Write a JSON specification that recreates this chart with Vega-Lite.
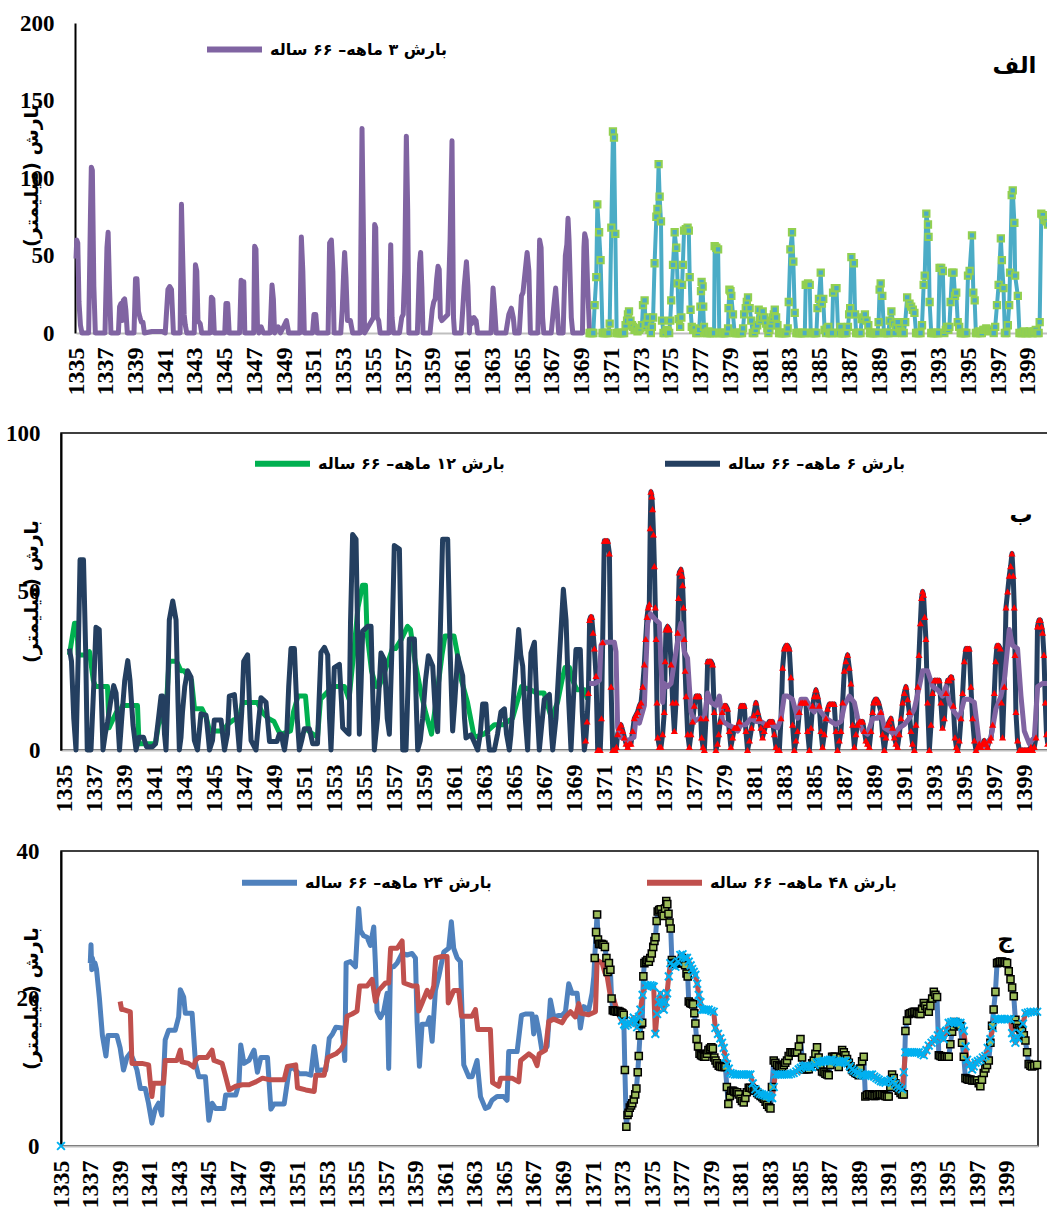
{
"$schema": "https://vega.github.io/schema/vega-lite/v6.json",
"background": "white",
"padding": {"left": 0, "top": 12, "right": 0, "bottom": 0},
"spacing": 26,
"resolve": {"scale": {"color": "independent"}, "legend": {"color": "independent"}},
"config": {"axis": {"labelFont": "Liberation Serif", "labelFontWeight": "bold", "labelFontSize": 23, "labelColor": "black", "ticks": false, "grid": false, "labelOverlap": false}, "axisX": {"labelOverlap": false, "labelFontSize": 24, "tickCount": 40}},
"datasets": {
"p1a": [{"t":1335.0,"v":48},{"t":1335.05,"v":60},{"t":1335.12,"v":58},{"t":1335.2,"v":20},{"t":1335.3,"v":5},{"t":1335.4,"v":0},{"t":1335.85,"v":0},{"t":1335.97,"v":75},{"t":1336.03,"v":107},{"t":1336.1,"v":105},{"t":1336.2,"v":30},{"t":1336.3,"v":0},{"t":1336.95,"v":0},{"t":1337.08,"v":55},{"t":1337.16,"v":65},{"t":1337.25,"v":30},{"t":1337.35,"v":0},{"t":1337.85,"v":0},{"t":1337.93,"v":17},{"t":1338.02,"v":19},{"t":1338.1,"v":8},{"t":1338.18,"v":21},{"t":1338.27,"v":22},{"t":1338.35,"v":15},{"t":1338.45,"v":0},{"t":1338.9,"v":0},{"t":1339.0,"v":35},{"t":1339.1,"v":35},{"t":1339.2,"v":14},{"t":1339.3,"v":10},{"t":1339.4,"v":7},{"t":1339.5,"v":7},{"t":1339.6,"v":0},{"t":1340.1,"v":1},{"t":1340.8,"v":1},{"t":1341.0,"v":0},{"t":1341.18,"v":28},{"t":1341.3,"v":30},{"t":1341.42,"v":28},{"t":1341.55,"v":0},{"t":1342.0,"v":0},{"t":1342.09,"v":83},{"t":1342.17,"v":50},{"t":1342.27,"v":12},{"t":1342.35,"v":5},{"t":1342.45,"v":0},{"t":1342.95,"v":0},{"t":1343.03,"v":44},{"t":1343.12,"v":40},{"t":1343.2,"v":8},{"t":1343.35,"v":6},{"t":1343.45,"v":0},{"t":1344.02,"v":0},{"t":1344.1,"v":23},{"t":1344.2,"v":22},{"t":1344.3,"v":0},{"t":1345.0,"v":0},{"t":1345.08,"v":19},{"t":1345.2,"v":19},{"t":1345.3,"v":0},{"t":1346.0,"v":0},{"t":1346.1,"v":34},{"t":1346.2,"v":33},{"t":1346.28,"v":33},{"t":1346.35,"v":0},{"t":1346.95,"v":0},{"t":1347.01,"v":56},{"t":1347.1,"v":54},{"t":1347.2,"v":5},{"t":1347.3,"v":0},{"t":1347.45,"v":4},{"t":1347.6,"v":0},{"t":1348.05,"v":0},{"t":1348.18,"v":31},{"t":1348.27,"v":22},{"t":1348.35,"v":0},{"t":1348.6,"v":4},{"t":1348.75,"v":0},{"t":1349.0,"v":5},{"t":1349.15,"v":8},{"t":1349.3,"v":0},{"t":1350.05,"v":0},{"t":1350.15,"v":62},{"t":1350.25,"v":40},{"t":1350.35,"v":0},{"t":1350.9,"v":0},{"t":1351.0,"v":12},{"t":1351.12,"v":12},{"t":1351.22,"v":0},{"t":1351.95,"v":0},{"t":1352.05,"v":58},{"t":1352.17,"v":60},{"t":1352.27,"v":40},{"t":1352.35,"v":0},{"t":1352.8,"v":0},{"t":1352.9,"v":15},{"t":1353.0,"v":40},{"t":1353.06,"v":52},{"t":1353.15,"v":36},{"t":1353.25,"v":8},{"t":1353.45,"v":8},{"t":1353.6,"v":0},{"t":1354.1,"v":0},{"t":1354.23,"v":132},{"t":1354.33,"v":60},{"t":1354.4,"v":0},{"t":1355.0,"v":10},{"t":1355.08,"v":70},{"t":1355.15,"v":68},{"t":1355.25,"v":10},{"t":1355.35,"v":8},{"t":1355.45,"v":0},{"t":1356.05,"v":0},{"t":1356.16,"v":57},{"t":1356.25,"v":10},{"t":1356.35,"v":0},{"t":1356.75,"v":0},{"t":1356.9,"v":10},{"t":1357.0,"v":12},{"t":1357.1,"v":40},{"t":1357.21,"v":127},{"t":1357.3,"v":80},{"t":1357.38,"v":0},{"t":1357.95,"v":0},{"t":1358.1,"v":45},{"t":1358.17,"v":52},{"t":1358.25,"v":30},{"t":1358.33,"v":0},{"t":1358.8,"v":0},{"t":1358.95,"v":15},{"t":1359.05,"v":20},{"t":1359.15,"v":22},{"t":1359.25,"v":35},{"t":1359.34,"v":43},{"t":1359.42,"v":41},{"t":1359.5,"v":10},{"t":1359.6,"v":8},{"t":1360.0,"v":12},{"t":1360.15,"v":60},{"t":1360.28,"v":124},{"t":1360.38,"v":10},{"t":1360.45,"v":0},{"t":1360.9,"v":0},{"t":1361.1,"v":30},{"t":1361.25,"v":46},{"t":1361.35,"v":30},{"t":1361.45,"v":0},{"t":1361.5,"v":10},{"t":1361.6,"v":6},{"t":1361.75,"v":10},{"t":1361.9,"v":8},{"t":1362.0,"v":0},{"t":1362.9,"v":0},{"t":1363.04,"v":29},{"t":1363.15,"v":15},{"t":1363.25,"v":0},{"t":1363.9,"v":0},{"t":1364.1,"v":12},{"t":1364.27,"v":16},{"t":1364.4,"v":10},{"t":1364.5,"v":0},{"t":1364.8,"v":0},{"t":1364.95,"v":24},{"t":1365.05,"v":26},{"t":1365.2,"v":40},{"t":1365.33,"v":52},{"t":1365.45,"v":40},{"t":1365.55,"v":0},{"t":1366.05,"v":0},{"t":1366.17,"v":60},{"t":1366.27,"v":55},{"t":1366.37,"v":10},{"t":1366.45,"v":0},{"t":1366.95,"v":0},{"t":1367.1,"v":15},{"t":1367.25,"v":29},{"t":1367.35,"v":15},{"t":1367.45,"v":0},{"t":1367.75,"v":0},{"t":1367.9,"v":50},{"t":1368.0,"v":57},{"t":1368.08,"v":74},{"t":1368.15,"v":60},{"t":1368.2,"v":43},{"t":1368.3,"v":10},{"t":1368.4,"v":0},{"t":1369.05,"v":0},{"t":1369.15,"v":55},{"t":1369.2,"v":64},{"t":1369.3,"v":60},{"t":1369.4,"v":30},{"t":1369.53,"v":0}],
"p1b": [{"t":1369.53,"v":0},{"t":1369.62,"v":0},{"t":1369.7,"v":0},{"t":1369.78,"v":0},{"t":1369.87,"v":18},{"t":1369.98,"v":36},{"t":1370.05,"v":83},{"t":1370.17,"v":65},{"t":1370.27,"v":47},{"t":1370.4,"v":0},{"t":1370.5,"v":0},{"t":1370.6,"v":0},{"t":1370.7,"v":0},{"t":1370.8,"v":0},{"t":1370.88,"v":6},{"t":1370.99,"v":68},{"t":1371.1,"v":130},{"t":1371.17,"v":126},{"t":1371.26,"v":64},{"t":1371.35,"v":0},{"t":1371.45,"v":0},{"t":1371.55,"v":0},{"t":1371.65,"v":0},{"t":1371.75,"v":0},{"t":1371.85,"v":0},{"t":1371.95,"v":5},{"t":1372.05,"v":8},{"t":1372.11,"v":12},{"t":1372.18,"v":14},{"t":1372.28,"v":8},{"t":1372.38,"v":5},{"t":1372.45,"v":4},{"t":1372.55,"v":2},{"t":1372.65,"v":3},{"t":1372.75,"v":1},{"t":1372.85,"v":2},{"t":1372.95,"v":3},{"t":1373.05,"v":5},{"t":1373.12,"v":18},{"t":1373.23,"v":21},{"t":1373.3,"v":4},{"t":1373.37,"v":6},{"t":1373.45,"v":10},{"t":1373.55,"v":2},{"t":1373.65,"v":0},{"t":1373.72,"v":4},{"t":1373.8,"v":10},{"t":1373.9,"v":45},{"t":1374.02,"v":75},{"t":1374.09,"v":80},{"t":1374.17,"v":109},{"t":1374.24,"v":88},{"t":1374.33,"v":72},{"t":1374.4,"v":8},{"t":1374.5,"v":0},{"t":1374.6,"v":0},{"t":1374.7,"v":2},{"t":1374.8,"v":1},{"t":1374.88,"v":0},{"t":1374.95,"v":8},{"t":1375.02,"v":21},{"t":1375.14,"v":44},{"t":1375.25,"v":65},{"t":1375.36,"v":55},{"t":1375.45,"v":32},{"t":1375.52,"v":9},{"t":1375.62,"v":4},{"t":1375.7,"v":10},{"t":1375.75,"v":31},{"t":1375.8,"v":44},{"t":1375.88,"v":66},{"t":1376.0,"v":67},{"t":1376.12,"v":68},{"t":1376.2,"v":66},{"t":1376.26,"v":36},{"t":1376.32,"v":15},{"t":1376.4,"v":4},{"t":1376.5,"v":2},{"t":1376.6,"v":3},{"t":1376.7,"v":0},{"t":1376.8,"v":0},{"t":1376.9,"v":2},{"t":1376.98,"v":17},{"t":1377.02,"v":27},{"t":1377.06,"v":33},{"t":1377.13,"v":30},{"t":1377.17,"v":17},{"t":1377.22,"v":4},{"t":1377.32,"v":0},{"t":1377.42,"v":0},{"t":1377.52,"v":1},{"t":1377.62,"v":0},{"t":1377.72,"v":0},{"t":1377.82,"v":0},{"t":1377.9,"v":0},{"t":1377.94,"v":56},{"t":1378.05,"v":55},{"t":1378.17,"v":54},{"t":1378.25,"v":0},{"t":1378.35,"v":0},{"t":1378.45,"v":0},{"t":1378.55,"v":0},{"t":1378.65,"v":0},{"t":1378.75,"v":0},{"t":1378.84,"v":3},{"t":1378.87,"v":16},{"t":1378.93,"v":28},{"t":1379.0,"v":27},{"t":1379.06,"v":24},{"t":1379.17,"v":12},{"t":1379.28,"v":0},{"t":1379.38,"v":0},{"t":1379.48,"v":0},{"t":1379.58,"v":0},{"t":1379.68,"v":0},{"t":1379.78,"v":0},{"t":1379.85,"v":3},{"t":1379.92,"v":12},{"t":1380.03,"v":16},{"t":1380.1,"v":20},{"t":1380.18,"v":23},{"t":1380.29,"v":16},{"t":1380.4,"v":8},{"t":1380.5,"v":0},{"t":1380.6,"v":0},{"t":1380.7,"v":2},{"t":1380.8,"v":5},{"t":1380.9,"v":15},{"t":1381.0,"v":8},{"t":1381.08,"v":10},{"t":1381.17,"v":14},{"t":1381.28,"v":10},{"t":1381.4,"v":6},{"t":1381.48,"v":3},{"t":1381.55,"v":0},{"t":1381.62,"v":2},{"t":1381.7,"v":5},{"t":1381.78,"v":8},{"t":1381.85,"v":10},{"t":1381.92,"v":12},{"t":1381.98,"v":15},{"t":1382.07,"v":10},{"t":1382.16,"v":5},{"t":1382.27,"v":0},{"t":1382.37,"v":0},{"t":1382.47,"v":0},{"t":1382.57,"v":0},{"t":1382.67,"v":0},{"t":1382.77,"v":0},{"t":1382.85,"v":3},{"t":1382.92,"v":20},{"t":1383.03,"v":54},{"t":1383.14,"v":65},{"t":1383.23,"v":46},{"t":1383.32,"v":13},{"t":1383.43,"v":0},{"t":1383.53,"v":0},{"t":1383.63,"v":0},{"t":1383.73,"v":0},{"t":1383.83,"v":0},{"t":1383.93,"v":0},{"t":1384.0,"v":0},{"t":1384.06,"v":31},{"t":1384.14,"v":31},{"t":1384.22,"v":32},{"t":1384.33,"v":31},{"t":1384.4,"v":0},{"t":1384.5,"v":0},{"t":1384.6,"v":0},{"t":1384.7,"v":0},{"t":1384.78,"v":0},{"t":1384.85,"v":16},{"t":1384.95,"v":22},{"t":1385.07,"v":39},{"t":1385.15,"v":19},{"t":1385.24,"v":22},{"t":1385.33,"v":2},{"t":1385.42,"v":0},{"t":1385.5,"v":3},{"t":1385.58,"v":4},{"t":1385.66,"v":0},{"t":1385.75,"v":0},{"t":1385.83,"v":0},{"t":1385.9,"v":26},{"t":1386.02,"v":29},{"t":1386.13,"v":29},{"t":1386.24,"v":0},{"t":1386.32,"v":0},{"t":1386.4,"v":4},{"t":1386.5,"v":0},{"t":1386.6,"v":0},{"t":1386.7,"v":0},{"t":1386.8,"v":0},{"t":1386.9,"v":4},{"t":1386.98,"v":12},{"t":1387.05,"v":16},{"t":1387.13,"v":49},{"t":1387.3,"v":45},{"t":1387.38,"v":12},{"t":1387.45,"v":0},{"t":1387.55,"v":0},{"t":1387.65,"v":0},{"t":1387.75,"v":0},{"t":1387.82,"v":9},{"t":1387.93,"v":10},{"t":1388.04,"v":12},{"t":1388.15,"v":8},{"t":1388.27,"v":5},{"t":1388.38,"v":0},{"t":1388.48,"v":0},{"t":1388.58,"v":0},{"t":1388.68,"v":0},{"t":1388.78,"v":0},{"t":1388.88,"v":0},{"t":1388.96,"v":7},{"t":1389.03,"v":28},{"t":1389.1,"v":32},{"t":1389.21,"v":24},{"t":1389.32,"v":0},{"t":1389.42,"v":0},{"t":1389.52,"v":0},{"t":1389.62,"v":0},{"t":1389.7,"v":8},{"t":1389.82,"v":14},{"t":1389.95,"v":6},{"t":1390.05,"v":0},{"t":1390.12,"v":4},{"t":1390.25,"v":7},{"t":1390.35,"v":3},{"t":1390.45,"v":1},{"t":1390.55,"v":0},{"t":1390.65,"v":0},{"t":1390.75,"v":7},{"t":1390.88,"v":23},{"t":1391.04,"v":19},{"t":1391.15,"v":17},{"t":1391.26,"v":15},{"t":1391.37,"v":13},{"t":1391.48,"v":0},{"t":1391.58,"v":0},{"t":1391.68,"v":0},{"t":1391.78,"v":0},{"t":1391.88,"v":5},{"t":1391.99,"v":31},{"t":1392.06,"v":37},{"t":1392.17,"v":77},{"t":1392.28,"v":70},{"t":1392.32,"v":62},{"t":1392.39,"v":20},{"t":1392.5,"v":0},{"t":1392.6,"v":0},{"t":1392.7,"v":0},{"t":1392.8,"v":0},{"t":1392.9,"v":0},{"t":1392.97,"v":0},{"t":1393.06,"v":42},{"t":1393.17,"v":42},{"t":1393.28,"v":40},{"t":1393.38,"v":0},{"t":1393.48,"v":2},{"t":1393.56,"v":4},{"t":1393.65,"v":2},{"t":1393.72,"v":4},{"t":1393.8,"v":20},{"t":1393.9,"v":39},{"t":1394.0,"v":39},{"t":1394.1,"v":24},{"t":1394.18,"v":26},{"t":1394.28,"v":7},{"t":1394.38,"v":4},{"t":1394.48,"v":0},{"t":1394.58,"v":0},{"t":1394.68,"v":0},{"t":1394.78,"v":0},{"t":1394.86,"v":0},{"t":1394.97,"v":37},{"t":1395.08,"v":40},{"t":1395.24,"v":63},{"t":1395.33,"v":26},{"t":1395.42,"v":21},{"t":1395.5,"v":0},{"t":1395.6,"v":0},{"t":1395.7,"v":1},{"t":1395.8,"v":0},{"t":1395.9,"v":0},{"t":1396.0,"v":2},{"t":1396.1,"v":2},{"t":1396.2,"v":3},{"t":1396.3,"v":2},{"t":1396.4,"v":1},{"t":1396.5,"v":2},{"t":1396.6,"v":2},{"t":1396.7,"v":0},{"t":1396.8,"v":4},{"t":1396.92,"v":18},{"t":1397.03,"v":31},{"t":1397.18,"v":61},{"t":1397.25,"v":47},{"t":1397.36,"v":29},{"t":1397.45,"v":0},{"t":1397.55,"v":0},{"t":1397.65,"v":5},{"t":1397.74,"v":18},{"t":1397.8,"v":39},{"t":1397.91,"v":89},{"t":1397.98,"v":92},{"t":1398.09,"v":71},{"t":1398.14,"v":37},{"t":1398.32,"v":24},{"t":1398.43,"v":0},{"t":1398.53,"v":0},{"t":1398.63,"v":0},{"t":1398.73,"v":1},{"t":1398.83,"v":0},{"t":1398.93,"v":0},{"t":1399.03,"v":0},{"t":1399.13,"v":1},{"t":1399.23,"v":0},{"t":1399.33,"v":0},{"t":1399.43,"v":1},{"t":1399.53,"v":2},{"t":1399.63,"v":0},{"t":1399.72,"v":0},{"t":1399.79,"v":7},{"t":1399.9,"v":77},{"t":1400.0,"v":76},{"t":1400.12,"v":73},{"t":1400.25,"v":72},{"t":1400.35,"v":70}],
"p2g": [{"t":1335.36,"v":30},{"t":1335.7,"v":40},{"t":1335.85,"v":40},{"t":1335.95,"v":30},{"t":1336.5,"v":30},{"t":1336.7,"v":31},{"t":1336.95,"v":22},{"t":1337.1,"v":20},{"t":1337.9,"v":20},{"t":1338.0,"v":7},{"t":1338.3,"v":10},{"t":1338.5,"v":12},{"t":1338.7,"v":12},{"t":1338.9,"v":14},{"t":1339.5,"v":14},{"t":1339.9,"v":14},{"t":1340.0,"v":2},{"t":1341.1,"v":2},{"t":1341.3,"v":8},{"t":1341.5,"v":10},{"t":1341.8,"v":12},{"t":1342.0,"v":28},{"t":1342.5,"v":28},{"t":1342.8,"v":25},{"t":1343.0,"v":25},{"t":1343.5,"v":22},{"t":1343.7,"v":13},{"t":1344.2,"v":13},{"t":1344.5,"v":10},{"t":1344.7,"v":6},{"t":1345.6,"v":6},{"t":1345.9,"v":8},{"t":1346.3,"v":9.5},{"t":1346.7,"v":10},{"t":1346.9,"v":15},{"t":1347.9,"v":15},{"t":1348.2,"v":12},{"t":1348.6,"v":10},{"t":1349.0,"v":9},{"t":1349.3,"v":6},{"t":1349.5,"v":5},{"t":1350.1,"v":6},{"t":1350.3,"v":12},{"t":1350.6,"v":17},{"t":1351.1,"v":17},{"t":1351.3,"v":6},{"t":1351.9,"v":4},{"t":1352.1,"v":16},{"t":1352.5,"v":18},{"t":1352.9,"v":20},{"t":1353.7,"v":20},{"t":1354.0,"v":16},{"t":1354.3,"v":30},{"t":1354.6,"v":45},{"t":1354.9,"v":52},{"t":1355.1,"v":52},{"t":1355.2,"v":37},{"t":1355.5,"v":25},{"t":1355.8,"v":20},{"t":1356.0,"v":20},{"t":1356.4,"v":25},{"t":1356.9,"v":32},{"t":1357.1,"v":32},{"t":1357.5,"v":35},{"t":1357.9,"v":39},{"t":1358.1,"v":38},{"t":1358.4,"v":28},{"t":1358.8,"v":18},{"t":1359.1,"v":12},{"t":1359.5,"v":5},{"t":1359.8,"v":15},{"t":1360.2,"v":30},{"t":1360.4,"v":36},{"t":1361.0,"v":36},{"t":1361.2,"v":31},{"t":1361.5,"v":22},{"t":1361.9,"v":15},{"t":1362.35,"v":4},{"t":1363.0,"v":5},{"t":1363.7,"v":8},{"t":1364.3,"v":8},{"t":1364.9,"v":10},{"t":1365.2,"v":15},{"t":1365.5,"v":20},{"t":1366.1,"v":19},{"t":1366.5,"v":18},{"t":1367.0,"v":18},{"t":1367.5,"v":10},{"t":1367.9,"v":15},{"t":1368.2,"v":22},{"t":1368.4,"v":26},{"t":1368.7,"v":26},{"t":1368.9,"v":22},{"t":1369.2,"v":19},{"t":1369.7,"v":19},{"t":1369.9,"v":16}],
"p2n": [{"t":1335.36,"v":32},{"t":1335.5,"v":28},{"t":1335.65,"v":10},{"t":1335.8,"v":0},{"t":1335.95,"v":30},{"t":1336.07,"v":60},{"t":1336.3,"v":60},{"t":1336.45,"v":30},{"t":1336.55,"v":0},{"t":1336.8,"v":0},{"t":1336.98,"v":20},{"t":1337.13,"v":38.7},{"t":1337.35,"v":38},{"t":1337.5,"v":15},{"t":1337.6,"v":0},{"t":1337.75,"v":5},{"t":1337.91,"v":9},{"t":1338.1,"v":15},{"t":1338.31,"v":20.3},{"t":1338.47,"v":18},{"t":1338.6,"v":8},{"t":1338.7,"v":0},{"t":1338.85,"v":10},{"t":1339.05,"v":22},{"t":1339.25,"v":28.2},{"t":1339.4,"v":22},{"t":1339.6,"v":8},{"t":1339.8,"v":0},{"t":1340.0,"v":4},{"t":1340.3,"v":4},{"t":1340.5,"v":1},{"t":1340.9,"v":1},{"t":1341.1,"v":2},{"t":1341.3,"v":10},{"t":1341.47,"v":17},{"t":1341.58,"v":17},{"t":1341.7,"v":5},{"t":1341.8,"v":0},{"t":1341.9,"v":15},{"t":1342.02,"v":41},{"t":1342.25,"v":47},{"t":1342.47,"v":41},{"t":1342.6,"v":15},{"t":1342.69,"v":0},{"t":1342.8,"v":4},{"t":1342.9,"v":12},{"t":1343.05,"v":20},{"t":1343.24,"v":25},{"t":1343.47,"v":23},{"t":1343.6,"v":10},{"t":1343.69,"v":3},{"t":1343.9,"v":0},{"t":1344.0,"v":5},{"t":1344.13,"v":11.4},{"t":1344.47,"v":11},{"t":1344.6,"v":5},{"t":1344.7,"v":0},{"t":1344.9,"v":3},{"t":1345.02,"v":9.5},{"t":1345.47,"v":9.5},{"t":1345.6,"v":4},{"t":1345.7,"v":0},{"t":1345.9,"v":5},{"t":1346.02,"v":17},{"t":1346.36,"v":17.5},{"t":1346.55,"v":8},{"t":1346.69,"v":0},{"t":1346.85,"v":12},{"t":1346.98,"v":28},{"t":1347.24,"v":30},{"t":1347.4,"v":10},{"t":1347.47,"v":3},{"t":1347.8,"v":0},{"t":1347.95,"v":8},{"t":1348.13,"v":16.5},{"t":1348.47,"v":15},{"t":1348.6,"v":8},{"t":1348.7,"v":2.7},{"t":1349.2,"v":2.7},{"t":1349.35,"v":5},{"t":1349.5,"v":5},{"t":1349.6,"v":2},{"t":1349.7,"v":0},{"t":1349.85,"v":5},{"t":1349.98,"v":20},{"t":1350.13,"v":32},{"t":1350.36,"v":32},{"t":1350.55,"v":10},{"t":1350.69,"v":0},{"t":1350.85,"v":3},{"t":1351.02,"v":6.7},{"t":1351.36,"v":6.7},{"t":1351.58,"v":2},{"t":1351.9,"v":2},{"t":1352.0,"v":15},{"t":1352.13,"v":30.8},{"t":1352.36,"v":32.4},{"t":1352.58,"v":30},{"t":1352.7,"v":10},{"t":1352.8,"v":0},{"t":1352.9,"v":12},{"t":1353.02,"v":26},{"t":1353.36,"v":27},{"t":1353.5,"v":15},{"t":1353.58,"v":7},{"t":1353.9,"v":5.4},{"t":1354.0,"v":5},{"t":1354.1,"v":40},{"t":1354.24,"v":68},{"t":1354.47,"v":66.5},{"t":1354.6,"v":30},{"t":1354.69,"v":5},{"t":1354.8,"v":20},{"t":1354.91,"v":37.5},{"t":1355.24,"v":39},{"t":1355.47,"v":39},{"t":1355.6,"v":15},{"t":1355.69,"v":0},{"t":1355.9,"v":10},{"t":1356.13,"v":30.6},{"t":1356.36,"v":28.5},{"t":1356.55,"v":10},{"t":1356.69,"v":5},{"t":1356.85,"v":30},{"t":1357.02,"v":64.5},{"t":1357.36,"v":63.4},{"t":1357.5,"v":25},{"t":1357.58,"v":0},{"t":1357.8,"v":0},{"t":1357.9,"v":15},{"t":1358.02,"v":35},{"t":1358.36,"v":35},{"t":1358.5,"v":12},{"t":1358.58,"v":0},{"t":1358.75,"v":3},{"t":1358.91,"v":10},{"t":1359.1,"v":22},{"t":1359.29,"v":29.7},{"t":1359.58,"v":26.5},{"t":1359.75,"v":12},{"t":1359.91,"v":5.8},{"t":1360.05,"v":30},{"t":1360.24,"v":66.5},{"t":1360.58,"v":66.5},{"t":1360.75,"v":30},{"t":1360.91,"v":6},{"t":1361.05,"v":15},{"t":1361.24,"v":29.7},{"t":1361.58,"v":23.4},{"t":1361.7,"v":10},{"t":1361.8,"v":3.8},{"t":1362.13,"v":4.8},{"t":1362.4,"v":2},{"t":1362.58,"v":0},{"t":1362.75,"v":5},{"t":1362.91,"v":14.5},{"t":1363.13,"v":14.5},{"t":1363.25,"v":5},{"t":1363.36,"v":0},{"t":1363.69,"v":0},{"t":1363.9,"v":5},{"t":1364.13,"v":12},{"t":1364.36,"v":13},{"t":1364.5,"v":5},{"t":1364.69,"v":0},{"t":1364.8,"v":5},{"t":1364.91,"v":13},{"t":1365.1,"v":25},{"t":1365.31,"v":38},{"t":1365.45,"v":30},{"t":1365.58,"v":26.5},{"t":1365.75,"v":10},{"t":1365.91,"v":0},{"t":1366.02,"v":15},{"t":1366.13,"v":30.6},{"t":1366.36,"v":34},{"t":1366.55,"v":12},{"t":1366.69,"v":0},{"t":1366.85,"v":8},{"t":1367.02,"v":16},{"t":1367.36,"v":17.5},{"t":1367.5,"v":5},{"t":1367.58,"v":0},{"t":1367.8,"v":10},{"t":1368.02,"v":28.5},{"t":1368.29,"v":50.7},{"t":1368.47,"v":41},{"t":1368.65,"v":15},{"t":1368.8,"v":0},{"t":1368.95,"v":15},{"t":1369.13,"v":31.7},{"t":1369.42,"v":31.7},{"t":1369.55,"v":12},{"t":1369.69,"v":0},{"t":1369.78,"v":3},{"t":1369.87,"v":9},{"t":1369.96,"v":18},{"t":1370.04,"v":41},{"t":1370.11,"v":42},{"t":1370.18,"v":42},{"t":1370.27,"v":37},{"t":1370.36,"v":32},{"t":1370.47,"v":23.4},{"t":1370.58,"v":0},{"t":1370.66,"v":0},{"t":1370.75,"v":0},{"t":1370.83,"v":10},{"t":1370.91,"v":34},{"t":1371.02,"v":66},{"t":1371.13,"v":66},{"t":1371.24,"v":66},{"t":1371.36,"v":62},{"t":1371.47,"v":20},{"t":1371.58,"v":0},{"t":1371.67,"v":0},{"t":1371.75,"v":0},{"t":1371.83,"v":1},{"t":1371.91,"v":5},{"t":1372.02,"v":7},{"t":1372.13,"v":8},{"t":1372.25,"v":6},{"t":1372.36,"v":4},{"t":1372.47,"v":2},{"t":1372.58,"v":1},{"t":1372.69,"v":2},{"t":1372.8,"v":2},{"t":1372.91,"v":6},{"t":1373.02,"v":10},{"t":1373.13,"v":11},{"t":1373.24,"v":12},{"t":1373.36,"v":14},{"t":1373.47,"v":15},{"t":1373.58,"v":20},{"t":1373.69,"v":27},{"t":1373.78,"v":35},{"t":1373.87,"v":42},{"t":1373.95,"v":45},{"t":1374.02,"v":46},{"t":1374.08,"v":70},{"t":1374.13,"v":81.5},{"t":1374.19,"v":80},{"t":1374.24,"v":76},{"t":1374.3,"v":68},{"t":1374.36,"v":58},{"t":1374.42,"v":45},{"t":1374.47,"v":35},{"t":1374.53,"v":15},{"t":1374.58,"v":4},{"t":1374.69,"v":1},{"t":1374.8,"v":1},{"t":1374.91,"v":5},{"t":1375.02,"v":12},{"t":1375.08,"v":28},{"t":1375.13,"v":38},{"t":1375.24,"v":39},{"t":1375.36,"v":38},{"t":1375.47,"v":27},{"t":1375.58,"v":15},{"t":1375.69,"v":6},{"t":1375.8,"v":15},{"t":1375.91,"v":37},{"t":1375.97,"v":48},{"t":1376.02,"v":56},{"t":1376.13,"v":57},{"t":1376.2,"v":55},{"t":1376.24,"v":52},{"t":1376.3,"v":45},{"t":1376.35,"v":35},{"t":1376.41,"v":25},{"t":1376.47,"v":17},{"t":1376.58,"v":5},{"t":1376.69,"v":1},{"t":1376.8,"v":5},{"t":1376.91,"v":9},{"t":1377.02,"v":14},{"t":1377.13,"v":17},{"t":1377.24,"v":17},{"t":1377.35,"v":17},{"t":1377.45,"v":10},{"t":1377.51,"v":4},{"t":1377.6,"v":1},{"t":1377.69,"v":0},{"t":1377.8,"v":10},{"t":1377.91,"v":28},{"t":1378.02,"v":28},{"t":1378.13,"v":28},{"t":1378.24,"v":27},{"t":1378.35,"v":12},{"t":1378.46,"v":0},{"t":1378.57,"v":2},{"t":1378.65,"v":5},{"t":1378.75,"v":9},{"t":1378.88,"v":12},{"t":1379.02,"v":14},{"t":1379.13,"v":14},{"t":1379.24,"v":13},{"t":1379.35,"v":6},{"t":1379.46,"v":1},{"t":1379.58,"v":4},{"t":1379.69,"v":7},{"t":1379.8,"v":7},{"t":1379.91,"v":7},{"t":1380.02,"v":9},{"t":1380.13,"v":14},{"t":1380.24,"v":14},{"t":1380.35,"v":14},{"t":1380.46,"v":6},{"t":1380.57,"v":0},{"t":1380.7,"v":3},{"t":1380.84,"v":7},{"t":1380.98,"v":11},{"t":1381.13,"v":15},{"t":1381.24,"v":12},{"t":1381.35,"v":10},{"t":1381.46,"v":7},{"t":1381.57,"v":4},{"t":1381.68,"v":6},{"t":1381.8,"v":8},{"t":1381.91,"v":8},{"t":1382.02,"v":9},{"t":1382.13,"v":9},{"t":1382.24,"v":9},{"t":1382.35,"v":5},{"t":1382.46,"v":1},{"t":1382.57,"v":0},{"t":1382.69,"v":0},{"t":1382.8,"v":10},{"t":1382.91,"v":26},{"t":1383.02,"v":32},{"t":1383.13,"v":33},{"t":1383.24,"v":33},{"t":1383.35,"v":32},{"t":1383.46,"v":23},{"t":1383.57,"v":8},{"t":1383.69,"v":0},{"t":1383.8,"v":3},{"t":1383.91,"v":6},{"t":1384.02,"v":12},{"t":1384.13,"v":15},{"t":1384.24,"v":15},{"t":1384.35,"v":15},{"t":1384.46,"v":15},{"t":1384.57,"v":6},{"t":1384.69,"v":0},{"t":1384.8,"v":7},{"t":1384.91,"v":14},{"t":1385.02,"v":17},{"t":1385.13,"v":19},{"t":1385.24,"v":17},{"t":1385.35,"v":14},{"t":1385.46,"v":6},{"t":1385.57,"v":1},{"t":1385.69,"v":5},{"t":1385.8,"v":10},{"t":1385.91,"v":13},{"t":1386.02,"v":14.5},{"t":1386.13,"v":14.5},{"t":1386.24,"v":14.5},{"t":1386.35,"v":14.5},{"t":1386.46,"v":6},{"t":1386.57,"v":0},{"t":1386.69,"v":3},{"t":1386.8,"v":6},{"t":1386.91,"v":15},{"t":1387.02,"v":25},{"t":1387.13,"v":28},{"t":1387.24,"v":30},{"t":1387.35,"v":26},{"t":1387.46,"v":21},{"t":1387.57,"v":8},{"t":1387.69,"v":1},{"t":1387.8,"v":5},{"t":1387.91,"v":8},{"t":1388.02,"v":9},{"t":1388.13,"v":9},{"t":1388.24,"v":9},{"t":1388.35,"v":6},{"t":1388.46,"v":3},{"t":1388.57,"v":2},{"t":1388.69,"v":1},{"t":1388.8,"v":6},{"t":1388.91,"v":12},{"t":1388.97,"v":15},{"t":1389.08,"v":16},{"t":1389.19,"v":16},{"t":1389.3,"v":15},{"t":1389.46,"v":12},{"t":1389.57,"v":5},{"t":1389.69,"v":0},{"t":1389.8,"v":4},{"t":1389.91,"v":8},{"t":1390.02,"v":9},{"t":1390.13,"v":10},{"t":1390.24,"v":7},{"t":1390.35,"v":4},{"t":1390.46,"v":2},{"t":1390.57,"v":1},{"t":1390.69,"v":5},{"t":1390.8,"v":10},{"t":1390.91,"v":15},{"t":1391.02,"v":18},{"t":1391.13,"v":20},{"t":1391.24,"v":16},{"t":1391.35,"v":12},{"t":1391.46,"v":6},{"t":1391.57,"v":2},{"t":1391.69,"v":0},{"t":1391.8,"v":8},{"t":1391.91,"v":20},{"t":1392.0,"v":30},{"t":1392.09,"v":40},{"t":1392.17,"v":48},{"t":1392.24,"v":50},{"t":1392.3,"v":49},{"t":1392.38,"v":42},{"t":1392.46,"v":35},{"t":1392.57,"v":15},{"t":1392.69,"v":0},{"t":1392.8,"v":8},{"t":1392.91,"v":18},{"t":1393.02,"v":22},{"t":1393.13,"v":22},{"t":1393.24,"v":22},{"t":1393.35,"v":22},{"t":1393.46,"v":15},{"t":1393.57,"v":7},{"t":1393.69,"v":10},{"t":1393.8,"v":18},{"t":1393.91,"v":22},{"t":1394.02,"v":22},{"t":1394.1,"v":23},{"t":1394.18,"v":23},{"t":1394.29,"v":14},{"t":1394.4,"v":4},{"t":1394.49,"v":1},{"t":1394.57,"v":0},{"t":1394.69,"v":3},{"t":1394.8,"v":10},{"t":1394.91,"v":18},{"t":1395.02,"v":28},{"t":1395.13,"v":32},{"t":1395.24,"v":32},{"t":1395.35,"v":32},{"t":1395.46,"v":20},{"t":1395.57,"v":10},{"t":1395.69,"v":3},{"t":1395.8,"v":0},{"t":1395.91,"v":1},{"t":1396.02,"v":2},{"t":1396.13,"v":1},{"t":1396.24,"v":2},{"t":1396.35,"v":3},{"t":1396.46,"v":2},{"t":1396.57,"v":1},{"t":1396.69,"v":3},{"t":1396.8,"v":4},{"t":1396.91,"v":8},{"t":1397.02,"v":18},{"t":1397.11,"v":28},{"t":1397.2,"v":33},{"t":1397.31,"v":33},{"t":1397.42,"v":32},{"t":1397.5,"v":15},{"t":1397.57,"v":4},{"t":1397.69,"v":20},{"t":1397.8,"v":45},{"t":1397.91,"v":50},{"t":1398.02,"v":55},{"t":1398.11,"v":58},{"t":1398.2,"v":62},{"t":1398.28,"v":55},{"t":1398.35,"v":45},{"t":1398.4,"v":30},{"t":1398.46,"v":12},{"t":1398.57,"v":3},{"t":1398.69,"v":0},{"t":1398.8,"v":0},{"t":1398.91,"v":0},{"t":1399.02,"v":0},{"t":1399.13,"v":0},{"t":1399.24,"v":0},{"t":1399.35,"v":0},{"t":1399.46,"v":1},{"t":1399.57,"v":0},{"t":1399.69,"v":1},{"t":1399.8,"v":4},{"t":1399.9,"v":39},{"t":1400.0,"v":41},{"t":1400.09,"v":41},{"t":1400.17,"v":39},{"t":1400.24,"v":37},{"t":1400.33,"v":30},{"t":1400.42,"v":15},{"t":1400.5,"v":5},{"t":1400.58,"v":2}],
"p2p": [{"t":1370.02,"v":21},{"t":1370.4,"v":21},{"t":1370.7,"v":22},{"t":1370.8,"v":33},{"t":1370.91,"v":34},{"t":1371.69,"v":34},{"t":1371.8,"v":31},{"t":1371.91,"v":7},{"t":1372.1,"v":4},{"t":1372.6,"v":3},{"t":1373.0,"v":4},{"t":1373.13,"v":10},{"t":1373.36,"v":8.5},{"t":1373.69,"v":14},{"t":1373.91,"v":40},{"t":1374.09,"v":43},{"t":1374.36,"v":41.5},{"t":1374.69,"v":40},{"t":1374.91,"v":15},{"t":1375.02,"v":21},{"t":1375.24,"v":20},{"t":1375.47,"v":21},{"t":1375.8,"v":31},{"t":1376.02,"v":37.6},{"t":1376.13,"v":40},{"t":1376.35,"v":31},{"t":1376.57,"v":29},{"t":1376.8,"v":12},{"t":1377.02,"v":9},{"t":1377.35,"v":10},{"t":1377.69,"v":10},{"t":1377.91,"v":18},{"t":1378.13,"v":15},{"t":1378.46,"v":14},{"t":1378.69,"v":17},{"t":1378.91,"v":9},{"t":1379.24,"v":8},{"t":1379.69,"v":7},{"t":1379.91,"v":6},{"t":1380.13,"v":8},{"t":1380.46,"v":8},{"t":1380.8,"v":10},{"t":1381.13,"v":9},{"t":1381.46,"v":9},{"t":1381.8,"v":8},{"t":1382.13,"v":8},{"t":1382.57,"v":7},{"t":1382.8,"v":10},{"t":1383.02,"v":17},{"t":1383.24,"v":17},{"t":1383.57,"v":16},{"t":1383.91,"v":10},{"t":1384.13,"v":16},{"t":1384.46,"v":16},{"t":1384.8,"v":13},{"t":1385.02,"v":12},{"t":1385.24,"v":14},{"t":1385.46,"v":12},{"t":1385.8,"v":10},{"t":1386.13,"v":9},{"t":1386.46,"v":8},{"t":1386.8,"v":9},{"t":1387.02,"v":14},{"t":1387.35,"v":17},{"t":1387.69,"v":15},{"t":1387.91,"v":10},{"t":1388.24,"v":6},{"t":1388.57,"v":5},{"t":1388.91,"v":10},{"t":1389.24,"v":10},{"t":1389.46,"v":12},{"t":1389.69,"v":7},{"t":1390.02,"v":6},{"t":1390.35,"v":5},{"t":1390.69,"v":7},{"t":1391.02,"v":8},{"t":1391.35,"v":10},{"t":1391.69,"v":13},{"t":1392.02,"v":20},{"t":1392.24,"v":25},{"t":1392.57,"v":25},{"t":1392.91,"v":20},{"t":1393.24,"v":19},{"t":1393.57,"v":17},{"t":1393.8,"v":20},{"t":1394.02,"v":15},{"t":1394.35,"v":12},{"t":1394.69,"v":10},{"t":1395.02,"v":16},{"t":1395.35,"v":16},{"t":1395.69,"v":15},{"t":1396.02,"v":2},{"t":1396.46,"v":1},{"t":1396.8,"v":4},{"t":1397.13,"v":13},{"t":1397.46,"v":17},{"t":1397.69,"v":22},{"t":1398.02,"v":38},{"t":1398.24,"v":33},{"t":1398.57,"v":32},{"t":1398.8,"v":17},{"t":1399.02,"v":6},{"t":1399.35,"v":2},{"t":1399.69,"v":4},{"t":1399.91,"v":20},{"t":1400.24,"v":21},{"t":1400.57,"v":21}],
"p3b": [{"t":1336.98,"v":24.8},{"t":1337.03,"v":27.3},{"t":1337.08,"v":23.9},{"t":1337.12,"v":25.5},{"t":1337.2,"v":24.8},{"t":1337.3,"v":24.8},{"t":1337.4,"v":24},{"t":1337.6,"v":20},{"t":1337.8,"v":15},{"t":1338.04,"v":12.2},{"t":1338.18,"v":15},{"t":1338.33,"v":15},{"t":1338.6,"v":15},{"t":1338.78,"v":15},{"t":1339.0,"v":13.3},{"t":1339.23,"v":10.3},{"t":1339.46,"v":12},{"t":1339.69,"v":12.6},{"t":1339.91,"v":11.6},{"t":1340.14,"v":10.3},{"t":1340.37,"v":7.8},{"t":1340.7,"v":7.8},{"t":1340.92,"v":5.8},{"t":1341.15,"v":3.1},{"t":1341.37,"v":5},{"t":1341.6,"v":5.8},{"t":1341.82,"v":4.2},{"t":1342.05,"v":14.4},{"t":1342.28,"v":15.7},{"t":1342.73,"v":15.7},{"t":1342.96,"v":17.5},{"t":1343.07,"v":21.2},{"t":1343.3,"v":20.2},{"t":1343.41,"v":18},{"t":1343.87,"v":18},{"t":1344.1,"v":11.2},{"t":1344.32,"v":9.4},{"t":1344.77,"v":9.4},{"t":1345.0,"v":3.5},{"t":1345.23,"v":5.8},{"t":1345.45,"v":5.1},{"t":1346.02,"v":5.1},{"t":1346.14,"v":6.9},{"t":1346.82,"v":6.9},{"t":1347.04,"v":8.5},{"t":1347.16,"v":13.7},{"t":1347.38,"v":11.2},{"t":1347.72,"v":11.6},{"t":1348.06,"v":13},{"t":1348.29,"v":10},{"t":1348.52,"v":12},{"t":1348.97,"v":12},{"t":1349.2,"v":5},{"t":1349.42,"v":5.7},{"t":1350.1,"v":5.7},{"t":1350.43,"v":10.3},{"t":1350.66,"v":10.7},{"t":1351.11,"v":9.8},{"t":1351.56,"v":9.8},{"t":1351.9,"v":9.6},{"t":1352.13,"v":13.5},{"t":1352.36,"v":10.1},{"t":1352.58,"v":10.3},{"t":1352.92,"v":10.3},{"t":1353.15,"v":14.6},{"t":1353.37,"v":15.2},{"t":1353.6,"v":16.1},{"t":1354.02,"v":16},{"t":1354.2,"v":11.6},{"t":1354.29,"v":24.8},{"t":1354.58,"v":25},{"t":1354.92,"v":24.3},{"t":1355.14,"v":32.2},{"t":1355.26,"v":29.2},{"t":1355.48,"v":28.5},{"t":1355.71,"v":28.3},{"t":1355.93,"v":27.2},{"t":1356.16,"v":29.7},{"t":1356.27,"v":24.8},{"t":1356.38,"v":18.3},{"t":1356.61,"v":17.4},{"t":1356.84,"v":18.3},{"t":1357.06,"v":20.7},{"t":1357.17,"v":10.5},{"t":1357.29,"v":24.3},{"t":1357.51,"v":24.3},{"t":1357.74,"v":24.8},{"t":1358.08,"v":26.1},{"t":1358.41,"v":25.9},{"t":1358.75,"v":26.1},{"t":1358.98,"v":25.5},{"t":1359.09,"v":16.9},{"t":1359.25,"v":10.8},{"t":1359.43,"v":16.5},{"t":1359.77,"v":16.5},{"t":1359.93,"v":17.4},{"t":1360.11,"v":14.2},{"t":1360.33,"v":21.1},{"t":1360.56,"v":23},{"t":1360.9,"v":26.3},{"t":1361.23,"v":26.8},{"t":1361.41,"v":30.4},{"t":1361.57,"v":26.8},{"t":1361.8,"v":25.5},{"t":1362.02,"v":25},{"t":1362.25,"v":11},{"t":1362.59,"v":9.4},{"t":1362.81,"v":9.4},{"t":1363.15,"v":11.6},{"t":1363.38,"v":6.7},{"t":1363.71,"v":5.1},{"t":1363.94,"v":5.3},{"t":1364.16,"v":6.2},{"t":1364.5,"v":6.7},{"t":1364.95,"v":6.7},{"t":1365.18,"v":6.2},{"t":1365.29,"v":12.8},{"t":1365.86,"v":12.8},{"t":1366.15,"v":17.7},{"t":1366.42,"v":17.9},{"t":1366.87,"v":17.9},{"t":1366.98,"v":15.2},{"t":1367.14,"v":17.5},{"t":1367.32,"v":15.7},{"t":1367.55,"v":12.8},{"t":1367.89,"v":13.5},{"t":1368.11,"v":19.8},{"t":1368.34,"v":17.5},{"t":1368.68,"v":17.7},{"t":1368.9,"v":17.7},{"t":1369.13,"v":18.2},{"t":1369.35,"v":22},{"t":1369.58,"v":20.7},{"t":1369.92,"v":20.7},{"t":1370.14,"v":16},{"t":1370.37,"v":18.9},{"t":1370.7,"v":18.4},{"t":1370.93,"v":20.7},{"t":1371.05,"v":23},{"t":1371.11,"v":25.5},{"t":1371.2,"v":29},{"t":1371.27,"v":31.4},{"t":1371.33,"v":28},{"t":1371.4,"v":27.4},{"t":1371.5,"v":27.4},{"t":1371.6,"v":27.4},{"t":1371.7,"v":27.3},{"t":1371.8,"v":27},{"t":1371.9,"v":25.5},{"t":1371.98,"v":23.6},{"t":1372.07,"v":24.8},{"t":1372.17,"v":23.9},{"t":1372.25,"v":20},{"t":1372.33,"v":18.4},{"t":1372.42,"v":18.3},{"t":1372.5,"v":18.3},{"t":1372.6,"v":18.2},{"t":1372.7,"v":18.3},{"t":1372.8,"v":18.2},{"t":1372.9,"v":18.1},{"t":1372.98,"v":18},{"t":1373.07,"v":17.8},{"t":1373.15,"v":10.3},{"t":1373.25,"v":2.6},{"t":1373.33,"v":4.2},{"t":1373.4,"v":4.5},{"t":1373.48,"v":5.2},{"t":1373.57,"v":5.5},{"t":1373.65,"v":5.8},{"t":1373.75,"v":6.3},{"t":1373.85,"v":7},{"t":1373.93,"v":7.8},{"t":1374.02,"v":10},{"t":1374.09,"v":12.2},{"t":1374.17,"v":15},{"t":1374.25,"v":16.5},{"t":1374.32,"v":16.7},{"t":1374.4,"v":23},{"t":1374.47,"v":24.8},{"t":1374.57,"v":25},{"t":1374.67,"v":25.2},{"t":1374.77,"v":25},{"t":1374.87,"v":25.5},{"t":1374.97,"v":26.1},{"t":1375.07,"v":27},{"t":1375.15,"v":27.8},{"t":1375.22,"v":28.3},{"t":1375.3,"v":30.5},{"t":1375.37,"v":31.8},{"t":1375.47,"v":32},{"t":1375.57,"v":32.1},{"t":1375.67,"v":31.5},{"t":1375.77,"v":31.2},{"t":1375.87,"v":32.2},{"t":1375.95,"v":33.2},{"t":1376.02,"v":32.8},{"t":1376.1,"v":31.5},{"t":1376.17,"v":30.3},{"t":1376.25,"v":29.5},{"t":1376.33,"v":25.2},{"t":1376.42,"v":24.8},{"t":1376.52,"v":24.8},{"t":1376.62,"v":24.8},{"t":1376.72,"v":24.8},{"t":1376.82,"v":24.8},{"t":1376.92,"v":25},{"t":1377.02,"v":25.5},{"t":1377.12,"v":24.8},{"t":1377.22,"v":24.5},{"t":1377.32,"v":23.4},{"t":1377.4,"v":23},{"t":1377.47,"v":19.6},{"t":1377.57,"v":19.4},{"t":1377.67,"v":19.3},{"t":1377.77,"v":19.2},{"t":1377.85,"v":18},{"t":1377.92,"v":16.6},{"t":1378.0,"v":14.5},{"t":1378.1,"v":13.5},{"t":1378.2,"v":12.5},{"t":1378.3,"v":12.3},{"t":1378.4,"v":12.2},{"t":1378.5,"v":12.1},{"t":1378.6,"v":12.1},{"t":1378.7,"v":12.5},{"t":1378.8,"v":13},{"t":1378.9,"v":13.2},{"t":1379.0,"v":13.4},{"t":1379.1,"v":13.2},{"t":1379.2,"v":12},{"t":1379.28,"v":11.6},{"t":1379.38,"v":11.2},{"t":1379.5,"v":10.9},{"t":1379.6,"v":10.8},{"t":1379.72,"v":10.7},{"t":1379.85,"v":10.7},{"t":1379.95,"v":10.7},{"t":1380.05,"v":8},{"t":1380.15,"v":5.7},{"t":1380.25,"v":6.8},{"t":1380.35,"v":7.5},{"t":1380.45,"v":7.5},{"t":1380.55,"v":7.4},{"t":1380.65,"v":7.3},{"t":1380.75,"v":7.3},{"t":1380.85,"v":7},{"t":1380.97,"v":6.4},{"t":1381.07,"v":6.1},{"t":1381.19,"v":5.9},{"t":1381.3,"v":6.5},{"t":1381.4,"v":7.3},{"t":1381.53,"v":7.9},{"t":1381.63,"v":7.9},{"t":1381.75,"v":7.8},{"t":1381.87,"v":7.7},{"t":1381.98,"v":7.5},{"t":1382.1,"v":7.2},{"t":1382.21,"v":7},{"t":1382.33,"v":6.8},{"t":1382.45,"v":6.6},{"t":1382.55,"v":6.4},{"t":1382.67,"v":6},{"t":1382.78,"v":5.6},{"t":1382.9,"v":5.3},{"t":1383.0,"v":5.1},{"t":1383.1,"v":8},{"t":1383.22,"v":11.6},{"t":1383.33,"v":11.3},{"t":1383.45,"v":11},{"t":1383.57,"v":10.8},{"t":1383.68,"v":10.7},{"t":1383.79,"v":10.7},{"t":1383.9,"v":11},{"t":1384.0,"v":11.3},{"t":1384.12,"v":11.6},{"t":1384.23,"v":12.2},{"t":1384.35,"v":12.7},{"t":1384.45,"v":12.7},{"t":1384.57,"v":12.7},{"t":1384.68,"v":12.7},{"t":1384.8,"v":12.7},{"t":1384.92,"v":13.5},{"t":1385.03,"v":14.5},{"t":1385.14,"v":12},{"t":1385.25,"v":10.4},{"t":1385.36,"v":10.4},{"t":1385.47,"v":10.4},{"t":1385.59,"v":10.4},{"t":1385.7,"v":10.8},{"t":1385.82,"v":11.2},{"t":1385.93,"v":11.6},{"t":1386.04,"v":12.5},{"t":1386.15,"v":13.4},{"t":1386.26,"v":12},{"t":1386.38,"v":10.8},{"t":1386.49,"v":10.1},{"t":1386.6,"v":10},{"t":1386.72,"v":9.8},{"t":1386.83,"v":9.7},{"t":1386.94,"v":9.6},{"t":1387.05,"v":11},{"t":1387.17,"v":12.1},{"t":1387.28,"v":12.1},{"t":1387.39,"v":12.1},{"t":1387.5,"v":11.5},{"t":1387.62,"v":10.7},{"t":1387.73,"v":12},{"t":1387.85,"v":13},{"t":1387.96,"v":12.7},{"t":1388.07,"v":12.3},{"t":1388.18,"v":11.8},{"t":1388.3,"v":11.3},{"t":1388.41,"v":10.8},{"t":1388.52,"v":10.3},{"t":1388.63,"v":10.1},{"t":1388.75,"v":9.9},{"t":1388.86,"v":9.8},{"t":1388.97,"v":9.6},{"t":1389.08,"v":10.5},{"t":1389.2,"v":11.5},{"t":1389.31,"v":12.1},{"t":1389.42,"v":6.7},{"t":1389.53,"v":6.9},{"t":1389.65,"v":7},{"t":1389.76,"v":7},{"t":1389.87,"v":6.9},{"t":1389.98,"v":6.8},{"t":1390.1,"v":6.8},{"t":1390.21,"v":6.9},{"t":1390.32,"v":7},{"t":1390.43,"v":7},{"t":1390.55,"v":7},{"t":1390.66,"v":6.9},{"t":1390.77,"v":6.8},{"t":1390.88,"v":6.7},{"t":1391.0,"v":6.7},{"t":1391.11,"v":8},{"t":1391.23,"v":9.7},{"t":1391.34,"v":9.2},{"t":1391.45,"v":8.5},{"t":1391.57,"v":7.9},{"t":1391.68,"v":7.5},{"t":1391.8,"v":7.2},{"t":1391.91,"v":7},{"t":1392.02,"v":7},{"t":1392.13,"v":15.6},{"t":1392.24,"v":17},{"t":1392.36,"v":17.9},{"t":1392.47,"v":18},{"t":1392.58,"v":18.1},{"t":1392.7,"v":18.2},{"t":1392.81,"v":18.2},{"t":1392.92,"v":18},{"t":1393.03,"v":17.9},{"t":1393.15,"v":17.9},{"t":1393.26,"v":18.6},{"t":1393.37,"v":19.4},{"t":1393.48,"v":19},{"t":1393.6,"v":18.6},{"t":1393.71,"v":18.2},{"t":1393.82,"v":19},{"t":1393.94,"v":20},{"t":1394.05,"v":20.9},{"t":1394.16,"v":20.5},{"t":1394.27,"v":20.2},{"t":1394.39,"v":12.3},{"t":1394.5,"v":12.2},{"t":1394.61,"v":12.1},{"t":1394.72,"v":12.1},{"t":1394.83,"v":12.1},{"t":1394.95,"v":12.1},{"t":1395.06,"v":12.1},{"t":1395.17,"v":13.8},{"t":1395.29,"v":15.5},{"t":1395.4,"v":16.2},{"t":1395.51,"v":16.8},{"t":1395.62,"v":16.6},{"t":1395.74,"v":16.4},{"t":1395.85,"v":16.3},{"t":1395.96,"v":14},{"t":1396.08,"v":12.1},{"t":1396.19,"v":9.2},{"t":1396.3,"v":9.1},{"t":1396.41,"v":9},{"t":1396.53,"v":9},{"t":1396.64,"v":8.9},{"t":1396.75,"v":8.9},{"t":1396.87,"v":8.9},{"t":1396.98,"v":8.9},{"t":1397.09,"v":8.5},{"t":1397.2,"v":8.1},{"t":1397.31,"v":9},{"t":1397.43,"v":9.9},{"t":1397.54,"v":10.5},{"t":1397.65,"v":11},{"t":1397.77,"v":11.6},{"t":1397.88,"v":14},{"t":1397.99,"v":16.3},{"t":1398.1,"v":18.5},{"t":1398.22,"v":20.9},{"t":1398.33,"v":24.8},{"t":1398.44,"v":24.9},{"t":1398.55,"v":25},{"t":1398.67,"v":25},{"t":1398.78,"v":24.9},{"t":1398.89,"v":24.9},{"t":1399.01,"v":24.8},{"t":1399.12,"v":23.7},{"t":1399.24,"v":22.6},{"t":1399.35,"v":21.5},{"t":1399.46,"v":20.3},{"t":1399.57,"v":17.1},{"t":1399.69,"v":16.5},{"t":1399.8,"v":16},{"t":1399.91,"v":15.8},{"t":1400.02,"v":15.6},{"t":1400.14,"v":15},{"t":1400.25,"v":14.3},{"t":1400.36,"v":12.7},{"t":1400.47,"v":11.1},{"t":1400.59,"v":10.9},{"t":1400.7,"v":10.8},{"t":1400.85,"v":10.9},{"t":1401.04,"v":11}],
"p3r": [{"t":1339.0,"v":19.6},{"t":1339.1,"v":18.5},{"t":1339.23,"v":18.5},{"t":1339.69,"v":18.2},{"t":1339.8,"v":11.2},{"t":1340.48,"v":11.2},{"t":1340.93,"v":11},{"t":1341.05,"v":8.5},{"t":1341.15,"v":6.7},{"t":1341.26,"v":8.5},{"t":1341.94,"v":8.5},{"t":1342.05,"v":11.6},{"t":1342.84,"v":11.6},{"t":1343.07,"v":13},{"t":1343.18,"v":11.4},{"t":1343.63,"v":11.2},{"t":1343.97,"v":10.7},{"t":1344.1,"v":11.6},{"t":1344.32,"v":12},{"t":1344.88,"v":12},{"t":1345.22,"v":13},{"t":1345.35,"v":11.6},{"t":1345.9,"v":11.2},{"t":1346.14,"v":9.4},{"t":1346.37,"v":7.6},{"t":1346.82,"v":8.1},{"t":1347.27,"v":8.3},{"t":1347.72,"v":8.3},{"t":1348.18,"v":8.7},{"t":1348.63,"v":9.2},{"t":1349.08,"v":9},{"t":1350.1,"v":9},{"t":1350.32,"v":10.8},{"t":1350.88,"v":11},{"t":1351.0,"v":7.9},{"t":1351.56,"v":7.6},{"t":1352.13,"v":7.4},{"t":1352.24,"v":9.6},{"t":1352.8,"v":9.6},{"t":1353.05,"v":12},{"t":1353.6,"v":12.5},{"t":1353.94,"v":13.1},{"t":1354.17,"v":13.9},{"t":1354.35,"v":17.6},{"t":1354.69,"v":17.9},{"t":1355.03,"v":18.3},{"t":1355.2,"v":21.7},{"t":1355.71,"v":21.7},{"t":1356.05,"v":22.6},{"t":1356.27,"v":19.6},{"t":1356.5,"v":21.1},{"t":1356.95,"v":22.1},{"t":1357.17,"v":22.1},{"t":1357.3,"v":26.8},{"t":1357.74,"v":26.8},{"t":1358.08,"v":27.8},{"t":1358.2,"v":22.1},{"t":1358.75,"v":21.7},{"t":1359.09,"v":21.7},{"t":1359.2,"v":18.3},{"t":1359.43,"v":19.4},{"t":1359.77,"v":21.1},{"t":1360.0,"v":20.2},{"t":1360.22,"v":21.7},{"t":1360.35,"v":25.5},{"t":1360.78,"v":25.7},{"t":1361.12,"v":25.7},{"t":1361.2,"v":19.4},{"t":1361.57,"v":21.1},{"t":1361.91,"v":21.1},{"t":1362.1,"v":17.6},{"t":1362.81,"v":17.6},{"t":1363.04,"v":18.5},{"t":1363.2,"v":15.8},{"t":1364.05,"v":15.8},{"t":1364.2,"v":8.6},{"t":1364.62,"v":8.1},{"t":1364.75,"v":9.2},{"t":1365.52,"v":9.2},{"t":1365.97,"v":8.7},{"t":1366.1,"v":11.6},{"t":1366.65,"v":12.5},{"t":1366.98,"v":12},{"t":1367.21,"v":10.9},{"t":1367.35,"v":12.5},{"t":1367.78,"v":13},{"t":1368.0,"v":16.9},{"t":1368.34,"v":17.2},{"t":1368.9,"v":16.7},{"t":1369.13,"v":17.5},{"t":1369.47,"v":18.2},{"t":1369.8,"v":17.5},{"t":1370.03,"v":19.3},{"t":1370.2,"v":18},{"t":1370.7,"v":17.8},{"t":1371.16,"v":18.2},{"t":1371.27,"v":25.2},{"t":1371.61,"v":24.8},{"t":1371.8,"v":23.5},{"t":1371.95,"v":23},{"t":1372.17,"v":20.3},{"t":1372.4,"v":19.9},{"t":1372.6,"v":18.5},{"t":1372.8,"v":17.5},{"t":1372.96,"v":17},{"t":1373.1,"v":16.5},{"t":1373.19,"v":16.3},{"t":1373.35,"v":16.5},{"t":1373.52,"v":16.7},{"t":1373.65,"v":17},{"t":1373.75,"v":17.4},{"t":1373.87,"v":16.8},{"t":1373.98,"v":16.1},{"t":1374.1,"v":17.5},{"t":1374.2,"v":18.5},{"t":1374.35,"v":20.5},{"t":1374.54,"v":21.8},{"t":1374.7,"v":21.8},{"t":1374.88,"v":21.8},{"t":1375.0,"v":21.7},{"t":1375.1,"v":21.6},{"t":1375.21,"v":15.2},{"t":1375.33,"v":17.9},{"t":1375.45,"v":19.5},{"t":1375.56,"v":20.7},{"t":1375.67,"v":19.5},{"t":1375.78,"v":18.5},{"t":1375.9,"v":19.5},{"t":1376.0,"v":20.7},{"t":1376.12,"v":23},{"t":1376.23,"v":24.8},{"t":1376.4,"v":24.5},{"t":1376.57,"v":24.3},{"t":1376.75,"v":25},{"t":1376.9,"v":25.9},{"t":1377.05,"v":26},{"t":1377.2,"v":25.5},{"t":1377.35,"v":25.5},{"t":1377.47,"v":25},{"t":1377.6,"v":24.5},{"t":1377.7,"v":24},{"t":1377.81,"v":23.6},{"t":1377.92,"v":23.2},{"t":1378.04,"v":22},{"t":1378.15,"v":20.5},{"t":1378.26,"v":19.5},{"t":1378.37,"v":18.5},{"t":1378.5,"v":18.5},{"t":1378.65,"v":18.5},{"t":1378.82,"v":18.5},{"t":1379.0,"v":18.3},{"t":1379.16,"v":18.2},{"t":1379.27,"v":16},{"t":1379.45,"v":15.2},{"t":1379.61,"v":14.6},{"t":1379.72,"v":14},{"t":1379.84,"v":13.3},{"t":1379.95,"v":12},{"t":1380.06,"v":11.1},{"t":1380.18,"v":10.5},{"t":1380.29,"v":9.9},{"t":1380.45,"v":9.8},{"t":1380.6,"v":9.7},{"t":1380.74,"v":9.7},{"t":1380.9,"v":9.7},{"t":1381.05,"v":9.7},{"t":1381.19,"v":9.7},{"t":1381.35,"v":9.7},{"t":1381.5,"v":9.7},{"t":1381.64,"v":9.7},{"t":1381.8,"v":8.5},{"t":1381.98,"v":7.7},{"t":1382.12,"v":7.3},{"t":1382.28,"v":7.1},{"t":1382.43,"v":7},{"t":1382.58,"v":6.9},{"t":1382.73,"v":6.8},{"t":1382.88,"v":6.8},{"t":1383.0,"v":6.6},{"t":1383.11,"v":6.5},{"t":1383.22,"v":8},{"t":1383.33,"v":9.7},{"t":1383.5,"v":9.7},{"t":1383.65,"v":9.7},{"t":1383.79,"v":9.7},{"t":1383.95,"v":9.7},{"t":1384.1,"v":9.7},{"t":1384.24,"v":9.7},{"t":1384.4,"v":9.8},{"t":1384.57,"v":9.9},{"t":1384.75,"v":10.1},{"t":1384.91,"v":10.4},{"t":1385.05,"v":10.6},{"t":1385.2,"v":10.8},{"t":1385.36,"v":10.9},{"t":1385.5,"v":10.8},{"t":1385.66,"v":10.7},{"t":1385.82,"v":10.7},{"t":1386.0,"v":11},{"t":1386.15,"v":11.3},{"t":1386.3,"v":11.4},{"t":1386.45,"v":11.4},{"t":1386.6,"v":11.5},{"t":1386.72,"v":11.5},{"t":1386.87,"v":11.6},{"t":1387.02,"v":11.7},{"t":1387.17,"v":11.7},{"t":1387.32,"v":11.5},{"t":1387.47,"v":11.4},{"t":1387.62,"v":11.3},{"t":1387.77,"v":11.4},{"t":1387.92,"v":11.5},{"t":1388.07,"v":11.5},{"t":1388.22,"v":11.2},{"t":1388.37,"v":10.8},{"t":1388.52,"v":10.4},{"t":1388.67,"v":10.2},{"t":1388.82,"v":10},{"t":1388.97,"v":9.9},{"t":1389.12,"v":9.7},{"t":1389.27,"v":9.6},{"t":1389.42,"v":9.5},{"t":1389.57,"v":9.6},{"t":1389.72,"v":9.7},{"t":1389.87,"v":9.7},{"t":1390.02,"v":9.4},{"t":1390.17,"v":9.2},{"t":1390.32,"v":9},{"t":1390.47,"v":8.8},{"t":1390.62,"v":8.7},{"t":1390.78,"v":8.6},{"t":1390.95,"v":8.8},{"t":1391.12,"v":9},{"t":1391.27,"v":8.7},{"t":1391.42,"v":8.4},{"t":1391.57,"v":8.1},{"t":1391.72,"v":7.9},{"t":1391.9,"v":7.7},{"t":1392.02,"v":10},{"t":1392.13,"v":12.7},{"t":1392.3,"v":12.7},{"t":1392.45,"v":12.7},{"t":1392.58,"v":12.7},{"t":1392.73,"v":12.7},{"t":1392.88,"v":12.7},{"t":1393.03,"v":12.7},{"t":1393.2,"v":12.5},{"t":1393.37,"v":12.3},{"t":1393.55,"v":13},{"t":1393.71,"v":13.6},{"t":1393.9,"v":14},{"t":1394.05,"v":14.3},{"t":1394.16,"v":14.5},{"t":1394.33,"v":15},{"t":1394.5,"v":15.6},{"t":1394.62,"v":15},{"t":1394.72,"v":14.5},{"t":1394.9,"v":15.6},{"t":1395.06,"v":16.7},{"t":1395.23,"v":16.8},{"t":1395.4,"v":16.9},{"t":1395.55,"v":16.8},{"t":1395.7,"v":16.7},{"t":1395.85,"v":16.7},{"t":1395.97,"v":16.2},{"t":1396.08,"v":15.6},{"t":1396.2,"v":13.5},{"t":1396.3,"v":11.7},{"t":1396.47,"v":11},{"t":1396.64,"v":10.4},{"t":1396.75,"v":10.8},{"t":1396.87,"v":11.3},{"t":1397.03,"v":11.5},{"t":1397.2,"v":11.7},{"t":1397.37,"v":12},{"t":1397.54,"v":12.2},{"t":1397.7,"v":13.3},{"t":1397.88,"v":14.5},{"t":1398.05,"v":16},{"t":1398.22,"v":17.2},{"t":1398.4,"v":17.2},{"t":1398.55,"v":17.2},{"t":1398.67,"v":17.2},{"t":1398.85,"v":17.2},{"t":1399.05,"v":17.2},{"t":1399.24,"v":17.2},{"t":1399.35,"v":15.3},{"t":1399.46,"v":14.6},{"t":1399.57,"v":14},{"t":1399.75,"v":14.6},{"t":1399.91,"v":15.3},{"t":1400.08,"v":16.6},{"t":1400.25,"v":18},{"t":1400.42,"v":18.1},{"t":1400.59,"v":18.2},{"t":1400.8,"v":18.2},{"t":1401.04,"v":18.2}]
},
"vconcat": [
{
"width": 987, "height": 310,
"view": {"stroke": null},
"layer": [
{"data": {"name": "p1a"}, "mark": {"type": "line", "strokeWidth": 5, "strokeJoin": "round"},
 "encoding": {
  "x": {"field": "t", "type": "quantitative", "scale": {"domain": [1335, 1400.35], "range": [15, 987], "nice": false, "zero": false},
        "axis": {"values": [1335,1337,1339,1341,1343,1345,1347,1349,1351,1353,1355,1357,1359,1361,1363,1365,1367,1369,1371,1373,1375,1377,1379,1381,1383,1385,1387,1389,1391,1393,1395,1397,1399], "tickCount": 40, "format": "d", "labelAngle": -90, "labelPadding": 14, "labelOverlap": false, "labelSeparation": 0, "labelBound": false, "labelFlush": false, "domainColor": "#bfbfbf", "domainWidth": 2, "title": null}},
  "y": {"field": "v", "type": "quantitative", "scale": {"domain": [0, 200], "nice": false},
        "axis": {"values": [0,50,100,150,200], "offset": -14, "labelPadding": 21, "domainColor": "black", "domainWidth": 2, "minExtent": 50, "maxExtent": 60,
                 "title": "بارش (میلیمتر)", "titleFont": "DejaVu Sans", "titleFontSize": 19, "titleFontWeight": "bold", "titleColor": "black", "titleX": -44, "titleY": 152, "titleAngle": -90, "titleAlign": "center", "titleBaseline": "middle"}},
  "color": {"datum": "بارش ۳ ماهه– ۶۶ ساله", "scale": {"domain": ["بارش ۳ ماهه– ۶۶ ساله"], "range": ["#8064a2"]},
            "legend": {"orient": "none", "legendX": 143, "legendY": -4, "direction": "horizontal", "title": null, "padding": 0, "labelFont": "DejaVu Sans", "labelFontSize": 16, "labelFontWeight": "bold", "labelColor": "black", "labelLimit": 400, "labelOffset": 5, "symbolType": "stroke", "symbolStrokeWidth": 6, "symbolSize": 3025}}
 }},
{"data": {"name": "p1b"}, "mark": {"type": "line", "strokeWidth": 4, "color": "#4bacc6", "strokeJoin": "round"},
 "encoding": {"x": {"field": "t", "type": "quantitative"}, "y": {"field": "v", "type": "quantitative"}}},
{"data": {"name": "p1b"}, "mark": {"type": "point", "shape": "square", "size": 40, "filled": false, "stroke": "#92d050", "fill": "#4bacc6", "fillOpacity": 1, "strokeWidth": 2, "opacity": 1},
 "encoding": {"x": {"field": "t", "type": "quantitative"}, "y": {"field": "v", "type": "quantitative"}}},
{"mark": {"type": "rule", "color": "black", "strokeWidth": 2},
 "encoding": {"x": {"datum": 1335}, "x2": {"datum": 1400.35}, "y": {"datum": 200}}},
{"data": {"values": [{"t": 1398.1, "v": 172, "lab": "الف"}]}, "mark": {"type": "text", "font": "DejaVu Sans", "fontSize": 23, "fontWeight": "bold", "color": "black", "align": "center", "baseline": "middle"},
 "encoding": {"x": {"field": "t", "type": "quantitative"}, "y": {"field": "v", "type": "quantitative"}, "text": {"field": "lab"}}}
]
},
{
"width": 987, "height": 317,
"view": {"stroke": "black", "strokeWidth": 1.5},
"layer": [
{"data": {"name": "p2g"}, "mark": {"type": "line", "strokeWidth": 5, "strokeJoin": "round"},
 "encoding": {
  "x": {"field": "t", "type": "quantitative", "scale": {"domain": [1334.8, 1400.6], "nice": false, "zero": false},
        "axis": {"values": [1335,1337,1339,1341,1343,1345,1347,1349,1351,1353,1355,1357,1359,1361,1363,1365,1367,1369,1371,1373,1375,1377,1379,1381,1383,1385,1387,1389,1391,1393,1395,1397,1399], "tickCount": 40, "format": "d", "labelAngle": -90, "labelPadding": 14, "labelOverlap": false, "labelSeparation": 0, "labelBound": false, "labelFlush": false, "domainColor": "#bfbfbf", "domainWidth": 2, "title": null}},
  "y": {"field": "v", "type": "quantitative", "scale": {"domain": [0, 100], "nice": false},
        "axis": {"values": [0,50,100], "labelPadding": 21, "domainColor": "black", "domainWidth": 2, "minExtent": 60, "maxExtent": 60,
                 "title": "بارش (میلیمتر)", "titleFont": "DejaVu Sans", "titleFontSize": 19, "titleFontWeight": "bold", "titleColor": "black", "titleX": -30, "titleY": 158, "titleAngle": -90, "titleAlign": "center", "titleBaseline": "middle"}},
  "color": {"datum": "بارش ۱۲ ماهه– ۶۶ ساله", "scale": {"domain": ["بارش ۱۲ ماهه– ۶۶ ساله", "بارش ۶ ماهه– ۶۶ ساله"], "range": ["#00b050", "#243f60"]},
            "legend": {"orient": "none", "legendX": 191, "legendY": 0, "direction": "horizontal", "title": null, "padding": 0, "labelFont": "DejaVu Sans", "labelFontSize": 16, "labelFontWeight": "bold", "labelColor": "black", "labelLimit": 400, "labelOffset": 5, "columnPadding": 148, "symbolType": "stroke", "symbolStrokeWidth": 6, "symbolSize": 3025}}
 }},
{"data": {"name": "p2n"}, "mark": {"type": "line", "strokeWidth": 5, "strokeJoin": "round"},
 "encoding": {"x": {"field": "t", "type": "quantitative"}, "y": {"field": "v", "type": "quantitative"}, "color": {"datum": "بارش ۶ ماهه– ۶۶ ساله"}}},
{"data": {"name": "p2p"}, "mark": {"type": "line", "strokeWidth": 5, "color": "#8064a2", "strokeJoin": "round"},
 "encoding": {"x": {"field": "t", "type": "quantitative"}, "y": {"field": "v", "type": "quantitative"}}},
{"data": {"name": "p2n"}, "transform": [{"filter": "datum.t >= 1369.75"}], "mark": {"type": "point", "shape": "triangle-up", "size": 50, "filled": true, "color": "#ff0000", "opacity": 1},
 "encoding": {"x": {"field": "t", "type": "quantitative"}, "y": {"field": "v", "type": "quantitative"}}},
{"data": {"values": [{"t": 1398.8, "v": 74, "lab": "ب"}]}, "mark": {"type": "text", "font": "DejaVu Sans", "fontSize": 23, "fontWeight": "bold", "color": "black", "align": "center", "baseline": "middle"},
 "encoding": {"x": {"field": "t", "type": "quantitative"}, "y": {"field": "v", "type": "quantitative"}, "text": {"field": "lab"}}}
]
},
{
"width": 977, "height": 295,
"view": {"stroke": "black", "strokeWidth": 1.5},
"layer": [
{"data": {"name": "p3b"}, "mark": {"type": "line", "strokeWidth": 5, "strokeJoin": "round"},
 "encoding": {
  "x": {"field": "t", "type": "quantitative", "scale": {"domain": [1335, 1401.1], "nice": false, "zero": false},
        "axis": {"values": [1335,1337,1339,1341,1343,1345,1347,1349,1351,1353,1355,1357,1359,1361,1363,1365,1367,1369,1371,1373,1375,1377,1379,1381,1383,1385,1387,1389,1391,1393,1395,1397,1399], "tickCount": 40, "format": "d", "labelAngle": -90, "labelPadding": 14, "labelOverlap": false, "labelSeparation": 0, "labelBound": false, "labelFlush": false, "domainColor": "#bfbfbf", "domainWidth": 2, "title": null}},
  "y": {"field": "v", "type": "quantitative", "scale": {"domain": [0, 40], "nice": false},
        "axis": {"values": [0,20,40], "labelPadding": 22, "domainColor": "black", "domainWidth": 2, "minExtent": 60, "maxExtent": 60,
                 "title": "بارش (میلیمتر)", "titleFont": "DejaVu Sans", "titleFontSize": 19, "titleFontWeight": "bold", "titleColor": "black", "titleX": -30, "titleY": 147, "titleAngle": -90, "titleAlign": "center", "titleBaseline": "middle"}},
  "color": {"datum": "بارش ۲۴ ماهه– ۶۶ ساله", "scale": {"domain": ["بارش ۲۴ ماهه– ۶۶ ساله", "بارش ۴۸ ماهه– ۶۶ ساله"], "range": ["#4f81bd", "#c0504d"]},
            "legend": {"orient": "none", "legendX": 178, "legendY": 1, "direction": "horizontal", "title": null, "padding": 0, "labelFont": "DejaVu Sans", "labelFontSize": 16, "labelFontWeight": "bold", "labelColor": "black", "labelLimit": 400, "labelOffset": 5, "columnPadding": 143, "symbolType": "stroke", "symbolStrokeWidth": 6, "symbolSize": 3025}}
 }},
{"data": {"name": "p3r"}, "mark": {"type": "line", "strokeWidth": 5, "strokeJoin": "round"},
 "encoding": {"x": {"field": "t", "type": "quantitative"}, "y": {"field": "v", "type": "quantitative"}, "color": {"datum": "بارش ۴۸ ماهه– ۶۶ ساله"}}},
{"data": {"name": "p3b"}, "transform": [{"filter": "datum.t >= 1371.1"}], "mark": {"type": "point", "shape": "square", "size": 50, "filled": true, "fill": "#9bbb59", "stroke": "black", "strokeWidth": 1.5, "opacity": 1},
 "encoding": {"x": {"field": "t", "type": "quantitative"}, "y": {"field": "v", "type": "quantitative"}}},
{"data": {"name": "p3r"}, "transform": [{"filter": "datum.t >= 1372.9"}], "mark": {"type": "point", "shape": "M-1,-1L1,1M-1,1L1,-1", "size": 60, "filled": false, "stroke": "#00b0f0", "strokeWidth": 2, "opacity": 1},
 "encoding": {"x": {"field": "t", "type": "quantitative"}, "y": {"field": "v", "type": "quantitative"}}},
{"data": {"values": [{"t": 1335, "v": 0}]}, "mark": {"type": "point", "shape": "M-1,-1L1,1M-1,1L1,-1", "size": 60, "filled": false, "stroke": "#00b0f0", "strokeWidth": 2, "opacity": 1},
 "encoding": {"x": {"field": "t", "type": "quantitative"}, "y": {"field": "v", "type": "quantitative"}}},
{"data": {"values": [{"t": 1398.9, "v": 28, "lab": "ج"}]}, "mark": {"type": "text", "font": "DejaVu Sans", "fontSize": 23, "fontWeight": "bold", "color": "black", "align": "center", "baseline": "middle"},
 "encoding": {"x": {"field": "t", "type": "quantitative"}, "y": {"field": "v", "type": "quantitative"}, "text": {"field": "lab"}}}
]
}
]
}
